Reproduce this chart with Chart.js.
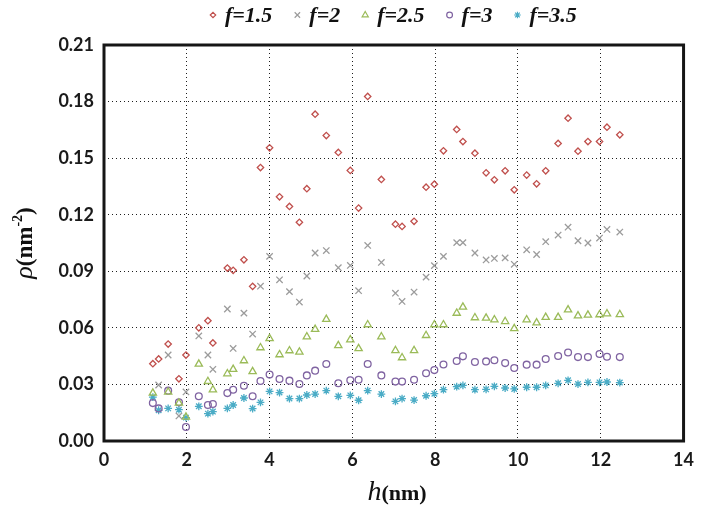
<!DOCTYPE html>
<html>
<head>
<meta charset="utf-8">
<script src="https://cdn.jsdelivr.net/npm/chart.js@4.4.0/dist/chart.umd.min.js"></script>
<style>
  html, body { margin: 0; padding: 0; background: #fff; }
  #wrap { width: 702px; height: 505px; position: relative; }
</style>
</head>
<body>
<div id="wrap"><canvas id="chart"></canvas></div>
<script>
// толщина слоя h (нм), общая для всех серий
const hValues = [1.18, 1.32, 1.55, 1.81, 1.98, 2.29, 2.51, 2.63, 2.98, 3.12,
  3.38, 3.59, 3.78, 4.00, 4.24, 4.48, 4.72, 4.90, 5.10, 5.37,
  5.66, 5.95, 6.15, 6.37, 6.70, 7.04, 7.20, 7.49, 7.78, 7.98,
  8.20, 8.52, 8.67, 8.96, 9.23, 9.43, 9.69, 9.91, 10.21, 10.45,
  10.67, 10.97, 11.21, 11.45, 11.69, 11.97, 12.15, 12.46];

// плотность rho (нм^-2) для каждого f, null - точки нет
const rhoF15 = [0.0410, 0.0435, 0.0514, 0.0330, 0.0456, 0.0600, 0.0638, 0.0520, 0.0917, 0.0905,
  0.0961, 0.0820, 0.1450, 0.1555, 0.1295, 0.1244, 0.1160, 0.1338, 0.1733, 0.1620,
  0.1530, 0.1435, 0.1235, 0.1827, 0.1387, 0.1150, 0.1138, 0.1165, 0.1346, 0.1362,
  0.1539, 0.1652, 0.1588, 0.1526, 0.1422, 0.1385, 0.1433, 0.1332, 0.1410, 0.1364,
  0.1433, 0.1578, 0.1712, 0.1537, 0.1588, 0.1588, 0.1664, 0.1624];
const rhoF2 = [null, 0.0297, 0.0456, 0.0133, 0.0260, 0.0557, 0.0456, 0.0380, 0.0700, 0.0491,
  0.0678, 0.0567, 0.0821, 0.0979, 0.0855, 0.0792, 0.0737, 0.0875, 0.0997, 0.1010,
  0.0919, 0.0931, 0.0797, 0.1037, 0.0947, 0.0784, 0.0740, 0.0790, 0.0869, 0.0930,
  0.0979, 0.1052, 0.1052, 0.0997, 0.0960, 0.0968, 0.0971, 0.0937, 0.1014, 0.0989,
  0.1057, 0.1092, 0.1134, 0.1062, 0.1050, 0.1076, 0.1122, 0.1108];
const rhoF25 = [0.0254, null, 0.0260, 0.0201, 0.0127, 0.0408, 0.0316, 0.0272, 0.0357, 0.0380,
  0.0426, 0.0368, 0.0495, 0.0543, 0.0458, 0.0479, 0.0472, 0.0553, 0.0592, 0.0645,
  0.0506, 0.0537, 0.0490, 0.0617, 0.0553, 0.0480, 0.0442, 0.0480, 0.0560, 0.0617,
  0.0617, 0.0678, 0.0710, 0.0654, 0.0652, 0.0643, 0.0634, 0.0596, 0.0643, 0.0627,
  0.0656, 0.0656, 0.0696, 0.0664, 0.0668, 0.0670, 0.0675, 0.0671];
const rhoF3 = [0.0201, 0.0173, 0.0267, 0.0205, 0.0074, 0.0237, 0.0191, 0.0196, 0.0254, 0.0272,
  0.0293, 0.0237, 0.0318, 0.0352, 0.0329, 0.0320, 0.0302, 0.0348, 0.0373, 0.0408,
  0.0306, 0.0322, 0.0325, 0.0408, 0.0348, 0.0315, 0.0315, 0.0325, 0.0359, 0.0376,
  0.0406, 0.0424, 0.0449, 0.0419, 0.0422, 0.0428, 0.0413, 0.0387, 0.0405, 0.0405,
  0.0435, 0.0451, 0.0469, 0.0445, 0.0445, 0.0461, 0.0447, 0.0445];
const rhoF35 = [0.0233, 0.0163, 0.0173, 0.0166, 0.0124, 0.0184, 0.0145, 0.0156, 0.0173, 0.0191,
  0.0228, 0.0172, 0.0205, 0.0263, 0.0257, 0.0225, 0.0225, 0.0244, 0.0249, 0.0267,
  0.0237, 0.0242, 0.0216, 0.0267, 0.0249, 0.0210, 0.0225, 0.0217, 0.0240, 0.0251,
  0.0272, 0.0288, 0.0295, 0.0272, 0.0274, 0.0290, 0.0281, 0.0276, 0.0285, 0.0285,
  0.0295, 0.0306, 0.0322, 0.0302, 0.0311, 0.0311, 0.0313, 0.0310];

const seriesLabels = ["f=1.5", "f=2", "f=2.5", "f=3", "f=3.5"];
const xTicks = [0, 2, 4, 6, 8, 10, 12, 14];
const yTicks = [0, 0.03, 0.06, 0.09, 0.12, 0.15, 0.18, 0.21];

const seriesStyle = [
  { color: "#C0504D", pointStyle: "rectRot", radius: 3.2 },
  { color: "#9C9C9C", pointStyle: "crossRot", radius: 4.5 },
  { color: "#9BBB59", pointStyle: "triangle", radius: 4.2 },
  { color: "#8064A2", pointStyle: "circle", radius: 3.4 },
  { color: "#4BACC6", pointStyle: "star", radius: 3.9 },
];

function toPoints(values) {
  const pts = [];
  hValues.forEach((h, i) => {
    if (values[i] !== null) pts.push({ x: h, y: values[i] });
  });
  return pts;
}

const datasets = [rhoF15, rhoF2, rhoF25, rhoF3, rhoF35].map((vals, i) => ({
  label: seriesLabels[i],
  data: toPoints(vals),
  borderColor: seriesStyle[i].color,
  backgroundColor: "rgba(0,0,0,0)",
  pointStyle: seriesStyle[i].pointStyle,
  pointRadius: seriesStyle[i].radius,
  pointBorderWidth: 1.3,
  showLine: false,
}));

const FRAME = { left: 104, top: 45, right: 691, bottom: 441 };

// рамка вокруг области графика
const framePlugin = {
  id: "frame",
  afterDraw(chart) {
    const { ctx, chartArea } = chart;
    ctx.save();
    ctx.strokeStyle = "#161616";
    ctx.lineWidth = 3;
    ctx.strokeRect(chartArea.left, chartArea.top,
      chartArea.right - chartArea.left, chartArea.bottom - chartArea.top);
    ctx.restore();
  },
};

// легенда сверху: маркер + подпись
const legendPlugin = {
  id: "topLegend",
  afterDraw(chart) {
    const ctx = chart.ctx;
    ctx.save();
    ctx.font = "italic bold 22px 'Liberation Serif'";
    ctx.textBaseline = "alphabetic";
    let x = 213;
    const y = 15;
    chart.data.datasets.forEach((ds, i) => {
      const st = seriesStyle[i];
      ctx.strokeStyle = st.color;
      ctx.fillStyle = "rgba(0,0,0,0)";
      ctx.lineWidth = 1.2;
      Chart.helpers.drawPoint(ctx, {
        pointStyle: st.pointStyle,
        radius: st.radius * 0.85,
        borderWidth: 1.2,
        rotation: 0,
      }, x, y);
      ctx.fillStyle = "#111";
      const tx = x + 12;
      ctx.fillText(ds.label, tx, y + 7);
      x = tx + ctx.measureText(ds.label).width + 25;
    });
    ctx.restore();
  },
};

// подписи осей: h(nm) и rho(nm^-2)
const axisTitlePlugin = {
  id: "axisTitles",
  afterDraw(chart) {
    const ctx = chart.ctx;
    ctx.save();
    ctx.fillStyle = "#111";
    ctx.textBaseline = "alphabetic";

    const drawParts = (parts, cx, baseY) => {
      let total = 0;
      parts.forEach(p => { ctx.font = p.font; p.w = ctx.measureText(p.t).width; total += p.w; });
      let x = cx - total / 2;
      parts.forEach(p => {
        ctx.font = p.font;
        ctx.fillText(p.t, x, baseY + (p.dy || 0));
        x += p.w;
      });
    };

    drawParts([
      { t: "h", font: "italic 28px 'Liberation Serif'" },
      { t: "(nm)", font: "bold 22px 'Liberation Serif'" },
    ], 397, 500);

    ctx.translate(32, 243);
    ctx.rotate(-Math.PI / 2);
    drawParts([
      { t: "ρ", font: "italic 26px 'Liberation Serif'" },
      { t: "(nm", font: "bold 23px 'Liberation Serif'" },
      { t: "-2", font: "bold 14px 'Liberation Serif'", dy: -10 },
      { t: ")", font: "bold 23px 'Liberation Serif'" },
    ], 0, 0);
    ctx.restore();
  },
};

const tickFont = { family: "Lato", weight: "bold", size: 18 };

new Chart(document.getElementById("chart"), {
  type: "scatter",
  data: { datasets },
  options: {
    responsive: true,
    maintainAspectRatio: false,
    animation: false,
    layout: { padding: { top: FRAME.top, right: 702 - FRAME.right, left: 0, bottom: 0 } },
    plugins: {
      legend: { display: false },
      tooltip: { enabled: false },
    },
    scales: {
      x: {
        type: "linear",
        min: 0,
        max: 14,
        afterBuildTicks: (scale) => { scale.ticks = xTicks.map(v => ({ value: v })); },
        afterFit: (scale) => { scale.height = 505 - FRAME.bottom; },
        ticks: { font: tickFont, color: "#1a1a1a", padding: 8, maxRotation: 0 },
        grid: { color: "#1e1e1e", lineWidth: 1, drawTicks: false },
        border: { display: false, dash: [1, 3] },
      },
      y: {
        min: 0,
        max: 0.21,
        afterBuildTicks: (scale) => { scale.ticks = yTicks.map(v => ({ value: v })); },
        afterFit: (scale) => { scale.width = FRAME.left; },
        ticks: { font: tickFont, color: "#1a1a1a", padding: 10, callback: v => v.toFixed(2) },
        grid: { color: "#1e1e1e", lineWidth: 1, drawTicks: false },
        border: { display: false, dash: [1, 3] },
      },
    },
  },
  plugins: [framePlugin, legendPlugin, axisTitlePlugin],
});
</script>
</body>
</html>
